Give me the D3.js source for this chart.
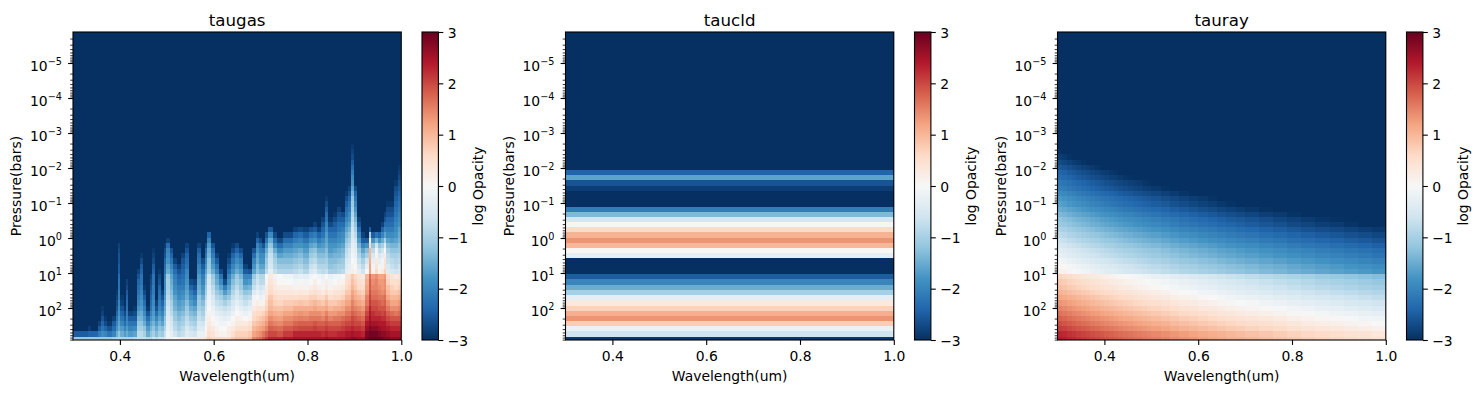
<!DOCTYPE html>
<html>
<head>
<meta charset="utf-8">
<script src="https://cdn.jsdelivr.net/npm/d3@7"></script>
<style>
    body { margin: 0; background: #fff; }
    text { font-family: "DejaVu Sans", sans-serif; fill: #000; }
</style>
</head>
<body>
<svg id="chart" width="1481" height="393"></svg>
<script>
const titles = ['taugas', 'taucld', 'tauray'];
const waveTicks = [0.4, 0.6, 0.8, 1.0];
const opacityTicks = [-3, -2, -1, 0, 1, 2, 3];
const pressureDecades = [-5, -4, -3, -2, -1, 0, 1, 2];
const rdbuStops = ['#053061', '#2166ac', '#4393c3', '#92c5de', '#d1e5f0', '#f7f7f7',
    '#fddbc7', '#f4a582', '#d6604d', '#b2182b', '#67001f'];

// layer edges, log10(bars), bottom of the plot first
const layerEdges = [2.914, 2.82, 2.67, 2.52, 2.37, 2.22, 2.08, 1.93, 1.78, 1.63, 1.48, 1.33, 1.18, 1.03,
    0.88, 0.73, 0.58, 0.44, 0.29, 0.14, -0.01, -0.16, -0.31, -0.46, -0.60, -0.75, -0.90, -1.05, -1.20,
    -1.35, -1.50, -1.65, -1.79, -1.94, -2.09, -2.24, -2.39, -2.54, -2.69, -2.84, -2.98, -3.13, -3.28,
    -3.43, -3.58, -3.73, -3.88, -4.03, -4.17, -4.32, -4.47, -4.62, -4.77, -4.92, -5.07, -5.22, -5.36,
    -5.51, -5.66, -5.81, -5.886];

// taucld, one value per layer from the bottom, anything missing is the -3 floor
const cldProfile = [-2.9, -0.6, -0.2, 0.75, 1.35, 1.1, 0.7, 0.3, -0.3, -1.0, -1.5, -2.0, -2.5, -3, -3, -3,
    -0.3, 0.05, 1.0, 1.35, 1.05, 0.6, -0.05, -0.55, -1.35, -2.1, -3, -3, -3, -2.85, -2.6, -1.6, -2.4];
const cldWave = [0.3, 1.0];

// tauray at 0.3um per layer, and how far each wavelength column sits below it
const rayProfile = [2.4, 2.3, 2.1, 1.95, 1.8, 1.65, 1.5, 1.35, 1.2, 1.05, 0.9, 0.8, 0.65, 0.15, 0.05, -0.1,
    -0.25, -0.35, -0.5, -0.65, -0.8, -0.95, -1.1, -1.2, -1.35, -1.5, -1.65, -1.75, -1.9, -2.05, -2.15,
    -2.3, -2.4, -2.55, -2.7, -2.85, -2.95];
const rayWave = [0.30, 0.31, 0.32, 0.33, 0.34, 0.35, 0.36, 0.37, 0.38, 0.39, 0.40, 0.41, 0.42, 0.43, 0.44,
    0.45, 0.46, 0.47, 0.48, 0.49, 0.50, 0.52, 0.54, 0.56, 0.58, 0.60, 0.62, 0.64, 0.66, 0.68, 0.70, 0.73,
    0.76, 0.79, 0.82, 0.85, 0.88, 0.91, 0.94, 0.97, 1.0];
const rayDrop = [0, 0.05, 0.11, 0.16, 0.21, 0.26, 0.30, 0.35, 0.39, 0.44, 0.48, 0.52, 0.56, 0.60, 0.64,
    0.67, 0.71, 0.74, 0.78, 0.81, 0.85, 0.91, 0.98, 1.04, 1.09, 1.15, 1.20, 1.26, 1.31, 1.36, 1.41, 1.48,
    1.54, 1.61, 1.67, 1.73, 1.78, 1.84, 1.89, 1.95];

// taugas columns start at these wavelengths
const gasWave = [0.300, 0.332, 0.338, 0.353, 0.360, 0.366, 0.373, 0.383, 0.392, 0.396, 0.400, 0.409, 0.413,
    0.417, 0.428, 0.437, 0.443, 0.449, 0.456, 0.464, 0.469, 0.475, 0.481, 0.488, 0.494, 0.498, 0.507, 0.513,
    0.522, 0.530, 0.539, 0.548, 0.556, 0.565, 0.573, 0.582, 0.586, 0.595, 0.603, 0.612, 0.620, 0.629, 0.637,
    0.646, 0.654, 0.663, 0.673, 0.682, 0.691, 0.697, 0.703, 0.710, 0.716, 0.727, 0.735, 0.748, 0.769, 0.780,
    0.791, 0.804, 0.812, 0.821, 0.829, 0.838, 0.844, 0.855, 0.863, 0.872, 0.880, 0.887, 0.893, 0.900, 0.906,
    0.915, 0.923, 0.932, 0.936, 0.944, 0.951, 0.957, 0.964, 0.968, 0.976, 0.985, 0.994, 1.0];

// one list per column, bottom layer first, stops where the column hits the -3 floor
const gasColumns = [
    [-1.1, -2.5],
    [-1.1, -2.4, -2.85],
    [-1.1, -2.4],
    [-1.1, -2.1, -2.5, -2.8],
    [-1.1, -1.9, -2.2, -2.4, -2.6, -2.8, -2.9],
    [-1.1, -2.0, -2.4, -2.7, -2.9],
    [-1.1, -2.2, -2.6, -2.9],
    [-1.0, -2.0, -2.3, -2.5, -2.8],
    [-0.9, -1.5, -1.8, -2.0, -2.2, -2.4, -2.6, -2.7, -2.8, -2.9],
    [-0.9, -1.2, -1.5, -1.6, -1.7, -1.8, -1.9, -2.0, -2.1, -2.1, -2.2, -2.2, -2.3, -2.5, -2.5, -2.6, -2.6, -2.7, -2.8],
    [-0.9, -1.5, -1.7, -2.0, -2.2, -2.4, -2.6, -2.8, -2.9],
    [-0.9, -1.7, -2.0, -2.3, -2.5, -2.7, -2.9],
    [-0.9, -1.5, -1.7, -1.9, -2.0, -2.1, -2.2, -2.3, -2.4, -2.5, -2.7, -2.8],
    [-0.9, -1.7, -2.0, -2.2, -2.5, -2.8],
    [-0.8, -1.6, -1.9, -2.2, -2.5, -2.7, -2.9],
    [-0.7, -0.8, -1.0, -1.2, -1.4, -1.6, -1.8, -2.0, -2.1, -2.2, -2.3, -2.4, -2.6, -2.8],
    [-0.7, -0.8, -1.0, -1.2, -1.4, -1.5, -1.7, -1.8, -1.9, -2.0, -2.1, -2.2, -2.2, -2.4, -2.5, -2.7, -2.9],
    [-0.7, -1.0, -1.2, -1.5, -1.7, -1.9, -2.1, -2.3, -2.5, -2.7, -2.9],
    [-0.8, -1.5, -1.7, -2.0, -2.3, -2.6, -2.9],
    [-0.8, -1.2, -1.4, -1.6, -1.8, -2.0, -2.2, -2.3, -2.4, -2.5, -2.6, -2.7, -2.8],
    [-0.6, -1.0, -1.2, -1.4, -1.6, -1.7, -1.8, -1.9, -2.0, -2.1, -2.1, -2.2, -2.2, -2.4, -2.5, -2.7, -2.8, -2.9],
    [-0.7, -1.3, -1.5, -1.7, -2.0, -2.3, -2.6, -2.8],
    [-0.6, -1.0, -1.2, -1.4, -1.6, -1.8, -2.0, -2.1, -2.2, -2.3, -2.4, -2.6, -2.7, -2.9],
    [-0.6, -1.1, -1.3, -1.6, -1.8, -2.0, -2.2, -2.4, -2.6, -2.8],
    [-0.4, -0.7, -0.9, -1.1, -1.2, -1.4, -1.5, -1.6, -1.7, -1.8, -1.9, -1.9, -2.0, -2.2, -2.3, -2.4, -2.6, -2.7, -2.9],
    [-0.1, -0.1, -0.2, -0.3, -0.4, -0.5, -0.6, -0.7, -0.8, -0.9, -1.0, -1.0, -1.1, -1.5, -1.6, -1.8, -1.9, -2.0, -2.3, -2.8],
    [0.1, -0.3, -0.4, -0.5, -0.6, -0.8, -0.9, -1.0, -1.2, -1.3, -1.4, -1.5, -1.6, -1.8, -2.0, -2.2, -2.4, -2.6],
    [0.0, -0.6, -0.8, -0.9, -1.1, -1.2, -1.4, -1.5, -1.6, -1.8, -1.9, -2.0, -2.1, -2.3, -2.5, -2.8],
    [0.1, -0.8, -1.0, -1.1, -1.3, -1.4, -1.6, -1.7, -1.9, -2.0, -2.1, -2.3, -2.4, -2.6, -2.8],
    [0.2, -0.7, -0.8, -1.0, -1.1, -1.3, -1.5, -1.6, -1.8, -1.9, -2.1, -2.2, -2.3, -2.4, -2.5, -2.6, -2.8],
    [0.2, -0.4, -0.5, -0.7, -0.8, -1.0, -1.1, -1.3, -1.5, -1.6, -1.7, -1.8, -1.9, -2.0, -2.2, -2.3, -2.4, -2.6, -2.8],
    [0.2, -0.5, -0.7, -0.9, -1.1, -1.3, -1.5, -1.7, -1.9, -2.1, -2.4, -2.7],
    [0.2, -0.6, -0.8, -1.0, -1.2, -1.4, -1.6, -1.9, -2.1, -2.4, -2.6, -2.8],
    [0.3, -0.2, -0.4, -0.5, -0.7, -0.8, -1.0, -1.1, -1.2, -1.4, -1.5, -1.6, -1.7, -1.9, -2.0, -2.2, -2.3, -2.5, -2.8],
    [0.3, -0.2, -0.4, -0.6, -0.8, -1.0, -1.1, -1.3, -1.5, -1.7, -1.8, -2.0, -2.1, -2.3, -2.5, -2.7],
    [0.5, 0.1, 0.0, -0.1, -0.2, -0.3, -0.5, -0.6, -0.8, -1.0, -1.1, -1.3, -1.4, -1.6, -1.8, -2.0, -2.2, -2.4, -2.7],
    [0.7, 0.5, 0.4, 0.3, 0.2, 0.1, 0.0, -0.1, -0.2, -0.3, -0.4, -0.5, -0.6, -1.0, -1.1, -1.2, -1.4, -1.5, -1.7, -2.0, -2.4],
    [0.6, 0.4, 0.3, 0.1, 0.0, -0.1, -0.2, -0.4, -0.5, -0.7, -0.8, -1.0, -1.1, -1.5, -1.7, -1.9, -2.1, -2.3, -2.6],
    [0.6, 0.2, 0.1, 0.0, -0.1, -0.3, -0.5, -0.7, -0.9, -1.1, -1.3, -1.5, -1.6, -2.0, -2.2, -2.5, -2.8],
    [0.6, 0.1, 0.0, -0.1, -0.2, -0.4, -0.6, -0.8, -1.0, -1.3, -1.6, -1.9, -2.2, -2.7],
    [0.6, 0.1, 0.0, -0.1, -0.3, -0.5, -0.7, -1.0, -1.3, -1.7, -2.1, -2.7],
    [0.6, 0.3, 0.2, 0.0, -0.2, -0.4, -0.6, -0.8, -1.1, -1.4, -1.6, -1.8, -2.0, -2.3, -2.5, -2.7, -2.9],
    [0.8, 0.5, 0.3, 0.1, 0.0, -0.2, -0.4, -0.5, -0.7, -0.9, -1.1, -1.3, -1.5, -1.8, -2.0, -2.2, -2.4, -2.7, -2.9],
    [0.9, 0.7, 0.5, 0.3, 0.2, 0.0, -0.1, -0.3, -0.5, -0.6, -0.8, -1.0, -1.1, -1.5, -1.7, -1.9, -2.1, -2.4, -2.7],
    [0.9, 0.7, 0.5, 0.3, 0.1, -0.1, -0.3, -0.5, -0.7, -0.9, -1.1, -1.2, -1.4, -1.7, -1.9, -2.1, -2.4, -2.7],
    [0.9, 0.7, 0.5, 0.3, 0.0, -0.2, -0.4, -0.7, -0.9, -1.2, -1.5, -1.8, -2.0, -2.5, -2.8],
    [1.0, 0.8, 0.6, 0.4, 0.1, -0.1, -0.3, -0.5, -0.8, -1.1, -1.4, -1.7, -2.0, -2.6],
    [1.5, 1.2, 1.0, 0.8, 0.6, 0.5, 0.3, 0.1, -0.1, -0.4, -0.7, -0.9, -1.1, -1.6, -1.8, -2.0, -2.3, -2.6],
    [1.6, 1.3, 1.1, 0.9, 0.7, 0.6, 0.4, 0.2, 0.0, -0.2, -0.4, -0.6, -0.7, -1.2, -1.3, -1.5, -1.6, -1.8, -2.0, -2.4, -2.8],
    [1.7, 1.4, 1.2, 1.0, 0.8, 0.6, 0.4, 0.1, -0.2, -0.4, -0.6, -0.8, -0.9, -1.4, -1.6, -1.8, -1.9, -2.1, -2.3, -2.7],
    [1.9, 1.6, 1.3, 1.1, 0.9, 0.7, 0.4, 0.1, -0.1, -0.3, -0.5, -0.8, -0.9, -1.4, -1.6, -1.8, -1.9, -2.2, -2.6],
    [2.1, 1.8, 1.5, 1.3, 1.1, 0.9, 0.7, 0.6, 0.4, 0.3, 0.2, 0.1, 0.0, -0.8, -1.0, -1.1, -1.3, -1.5, -1.8, -2.2, -2.6],
    [2.3, 2.0, 1.8, 1.6, 1.4, 1.2, 1.0, 0.9, 0.8, 0.6, 0.5, 0.4, 0.3, -0.3, -0.5, -0.6, -0.7, -0.9, -1.2, -1.5, -1.9, -2.5],
    [2.3, 2.0, 1.75, 1.5, 1.3, 1.1, 0.9, 0.7, 0.6, 0.4, 0.3, 0.2, 0.1, -0.7, -0.9, -1.0, -1.2, -1.5, -1.9, -2.3, -2.7],
    [2.3, 1.9, 1.7, 1.45, 1.25, 1.05, 0.85, 0.65, 0.5, 0.35, 0.2, 0.05, 0.0, -0.9, -1.1, -1.3, -1.6, -1.9, -2.3, -2.7],
    [2.4, 2.1, 1.85, 1.6, 1.4, 1.2, 0.95, 0.75, 0.55, 0.35, 0.2, 0.0, -0.1, -0.9, -1.1, -1.3, -1.5, -1.7, -2.0, -2.3, -2.7],
    [2.5, 2.3, 1.95, 1.75, 1.5, 1.3, 1.1, 0.8, 0.55, 0.3, 0.1, -0.1, -0.3, -0.8, -1.0, -1.2, -1.4, -1.6, -1.8, -2.1, -2.4, -2.8],
    [2.5, 2.3, 2.0, 1.8, 1.55, 1.35, 1.1, 0.85, 0.6, 0.35, 0.15, -0.05, -0.25, -0.7, -0.9, -1.1, -1.3, -1.5, -1.8, -2.0, -2.3, -2.7],
    [2.5, 2.3, 2.0, 1.8, 1.5, 1.3, 1.1, 0.8, 0.6, 0.3, 0.1, -0.1, -0.3, -0.9, -1.1, -1.3, -1.5, -1.7, -1.9, -2.2, -2.5, -2.8],
    [2.5, 2.3, 2.0, 1.8, 1.6, 1.4, 1.1, 0.9, 0.7, 0.4, 0.2, 0.0, -0.1, -0.5, -0.7, -0.9, -1.1, -1.3, -1.6, -1.9, -2.2, -2.6],
    [2.5, 2.3, 2.1, 1.9, 1.6, 1.4, 1.2, 1.0, 0.7, 0.5, 0.3, 0.2, 0.0, -0.4, -0.6, -0.8, -1.0, -1.2, -1.5, -1.8, -2.1, -2.5, -2.8],
    [2.5, 2.3, 2.0, 1.8, 1.6, 1.4, 1.1, 0.9, 0.6, 0.4, 0.2, 0.0, -0.1, -0.7, -0.9, -1.1, -1.3, -1.5, -1.8, -2.1, -2.4, -2.8],
    [2.5, 2.2, 2.0, 1.8, 1.5, 1.3, 1.1, 0.8, 0.6, 0.3, 0.1, -0.1, -0.2, -0.8, -0.9, -1.1, -1.3, -1.5, -1.7, -1.9, -2.2, -2.4, -2.6, -2.8],
    [2.6, 2.3, 2.1, 1.9, 1.7, 1.5, 1.2, 1.0, 0.8, 0.5, 0.3, 0.2, 0.0, -0.7, -0.9, -1.0, -1.2, -1.3, -1.5, -1.6, -1.7, -1.9, -2.0, -2.2, -2.3, -2.5, -2.7, -2.9],
    [2.5, 2.2, 2.0, 1.8, 1.5, 1.3, 1.0, 0.8, 0.5, 0.3, 0.1, -0.1, -0.2, -1.0, -1.2, -1.3, -1.5, -1.7, -1.8, -2.0, -2.2, -2.4, -2.7, -2.9],
    [2.5, 2.2, 2.0, 1.8, 1.6, 1.3, 1.1, 0.8, 0.6, 0.4, 0.2, 0.0, -0.1, -1.0, -1.1, -1.3, -1.4, -1.6, -1.8, -2.0, -2.2, -2.4, -2.5, -2.7, -2.9],
    [2.5, 2.3, 2.0, 1.8, 1.6, 1.4, 1.1, 0.9, 0.6, 0.4, 0.2, 0.1, -0.1, -0.9, -1.0, -1.2, -1.4, -1.5, -1.7, -1.9, -2.0, -2.2, -2.3, -2.5, -2.6, -2.8],
    [2.5, 2.3, 2.1, 1.9, 1.7, 1.4, 1.2, 1.0, 0.7, 0.5, 0.3, 0.1, 0.0, -0.8, -1.0, -1.1, -1.3, -1.4, -1.6, -1.8, -1.9, -2.1, -2.3, -2.5, -2.7],
    [2.6, 2.4, 2.2, 2.0, 1.8, 1.6, 1.4, 1.2, 1.0, 0.8, 0.6, 0.5, 0.4, -0.3, -0.4, -0.5, -0.7, -0.8, -1.0, -1.2, -1.4, -1.6, -1.8, -2.0, -2.2, -2.3, -2.5, -2.7, -2.9],
    [2.6, 2.4, 2.2, 2.0, 1.8, 1.6, 1.4, 1.2, 1.0, 0.8, 0.7, 0.6, 0.5, -0.2, -0.3, -0.4, -0.5, -0.6, -0.8, -1.0, -1.2, -1.4, -1.6, -1.8, -1.9, -2.1, -2.2, -2.4, -2.6, -2.8],
    [2.7, 2.5, 2.3, 2.1, 2.0, 1.8, 1.6, 1.5, 1.3, 1.2, 1.0, 0.9, 0.8, 0.2, 0.1, 0.0, -0.1, -0.2, -0.3, -0.4, -0.5, -0.6, -0.7, -0.8, -0.9, -1.0, -1.1, -1.2, -1.4, -1.6, -1.8, -1.9, -2.1, -2.3, -2.5, -2.7, -2.8, -2.9],
    [2.7, 2.4, 2.2, 2.0, 1.9, 1.7, 1.5, 1.3, 1.1, 1.0, 0.8, 0.7, 0.6, 0.1, 0.0, -0.1, -0.2, -0.3, -0.4, -0.6, -0.8, -1.0, -1.2, -1.4, -1.6, -1.8, -2.0, -2.2, -2.4, -2.7],
    [2.6, 2.4, 2.2, 2.0, 1.8, 1.6, 1.4, 1.2, 1.0, 0.8, 0.6, 0.5, 0.4, -0.3, -0.5, -0.7, -0.9, -1.1, -1.4, -1.7, -2.0, -2.3, -2.6, -2.8],
    [2.6, 2.3, 2.1, 1.9, 1.7, 1.5, 1.3, 1.1, 0.9, 0.7, 0.5, 0.4, 0.3, -0.6, -0.8, -1.0, -1.3, -1.6, -2.0, -2.5, -2.8],
    [2.9, 2.8, 2.6, 2.4, 2.2, 2.0, 1.8, 1.6, 1.5, 1.3, 1.2, 1.1, 1.0, 0.0, -0.3, -0.6, -1.0, -1.3, -1.8, -2.5],
    [3.0, 2.9, 2.8, 2.6, 2.5, 2.4, 2.3, 2.1, 2.0, 1.9, 1.8, 1.8, 1.7, 1.2, 1.2, 1.1, 1.0, 1.0, 0.6, 0.2, -1.0, -2.5],
    [3.0, 2.9, 2.7, 2.5, 2.3, 2.2, 2.0, 1.9, 1.7, 1.6, 1.5, 1.4, 1.3, 0.1, -0.1, -0.3, -0.5, -0.8, -1.2, -1.8, -2.5],
    [3.0, 2.9, 2.7, 2.5, 2.3, 2.1, 2.0, 1.9, 1.7, 1.6, 1.5, 1.5, 1.4, 0.6, 0.4, 0.3, 0.1, -0.1, -0.6, -1.4, -2.2],
    [3.0, 2.8, 2.6, 2.4, 2.3, 2.1, 1.9, 1.8, 1.6, 1.5, 1.4, 1.3, 1.2, 0.1, -0.1, -0.3, -0.5, -0.8, -1.2, -1.8, -2.4],
    [2.9, 2.7, 2.5, 2.4, 2.2, 2.0, 1.9, 1.7, 1.6, 1.4, 1.3, 1.3, 1.2, 0.3, 0.1, -0.1, -0.3, -0.6, -1.0, -1.5, -2.0, -2.4, -2.8],
    [2.8, 2.7, 2.5, 2.4, 2.2, 2.1, 1.9, 1.8, 1.7, 1.5, 1.4, 1.4, 1.3, 0.7, 0.5, 0.4, 0.2, 0.0, -0.4, -1.0, -1.6, -2.0, -2.3, -2.6, -2.8],
    [2.8, 2.6, 2.4, 2.2, 2.0, 1.8, 1.6, 1.4, 1.2, 1.0, 0.9, 0.7, 0.6, -0.4, -0.5, -0.7, -0.8, -1.0, -1.3, -1.6, -1.9, -2.1, -2.3, -2.4, -2.6, -2.7, -2.9],
    [2.7, 2.5, 2.3, 2.1, 1.9, 1.7, 1.4, 1.2, 1.0, 0.8, 0.7, 0.5, 0.4, -0.5, -0.7, -0.8, -1.0, -1.2, -1.4, -1.7, -1.9, -2.1, -2.3, -2.4, -2.6, -2.7, -2.9],
    [2.7, 2.5, 2.3, 2.1, 1.9, 1.6, 1.4, 1.2, 1.0, 0.8, 0.6, 0.5, 0.3, -0.6, -0.8, -0.9, -1.0, -1.2, -1.4, -1.6, -1.8, -1.9, -2.0, -2.1, -2.2, -2.3, -2.4, -2.5, -2.6, -2.7, -2.9],
    [2.7, 2.5, 2.3, 2.1, 1.9, 1.7, 1.5, 1.3, 1.1, 0.9, 0.7, 0.6, 0.4, -0.5, -0.6, -0.8, -0.9, -1.1, -1.2, -1.4, -1.5, -1.6, -1.8, -1.9, -2.0, -2.1, -2.2, -2.3, -2.4, -2.5, -2.6, -2.7, -2.8, -2.9]
];

const panelLefts = [73, 565.5, 1057.5];
const panelWidth = 328.3;
const plotTop = 32;
const plotBottom = 340;
const barGap = 349;
const barWidth = 16.4;

const svg = d3.select('#chart');

// same stops as matplotlib RdBu_r, d3.interpolateRdBu is a spline and comes out different
const color = d3.scaleLinear()
    .domain(rdbuStops.map((d, i) => -3 + i * 0.6))
    .range(rdbuStops)
    .clamp(true);

svg.append('defs')
    .append('linearGradient')
    .attr('id', 'rdbu')
    .attr('x1', 0).attr('y1', 1).attr('x2', 0).attr('y2', 0)
    .selectAll('stop')
    .data(rdbuStops)
    .enter().append('stop')
    .attr('offset', (d, i) => i / (rdbuStops.length - 1))
    .attr('stop-color', d => d);

const yScale = d3.scaleLog().domain([1.3e-6, 820]).range([plotTop, plotBottom]);
const minorTicks = pressureDecades.concat([-6])
    .flatMap(e => d3.range(2, 10).map(m => m * 10 ** e))
    .filter(p => p >= 1.3e-6 && p <= 820);

// each panel gets a list of { wave0, wave1, layer, value }
function gasCells() {
    const cells = [];
    gasColumns.forEach((column, j) => {
        layerEdges.slice(1).forEach((edge, i) => {
            cells.push({ wave0: gasWave[j], wave1: gasWave[j + 1], layer: i, value: column[i] ?? -3 });
        });
    });
    return cells;
}

function cldCells() {
    return layerEdges.slice(1).map((edge, i) => (
        { wave0: cldWave[0], wave1: cldWave[1], layer: i, value: cldProfile[i] ?? -3 }
    ));
}

function rayCells() {
    const cells = [];
    rayDrop.forEach((drop, j) => {
        layerEdges.slice(1).forEach((edge, i) => {
            const value = i < rayProfile.length ? rayProfile[i] - drop : -3;
            cells.push({ wave0: rayWave[j], wave1: rayWave[j + 1], layer: i, value: value });
        });
    });
    return cells;
}

function styleTicks(g, width) {
    g.select('.domain').remove();
    g.selectAll('line').attr('stroke', '#000').attr('stroke-width', width);
}

function drawPressureLabels(g) {
    g.selectAll('text').each(function(d) {
        const label = d3.select(this);
        const exponent = Math.round(Math.log10(d));
        label.text(null)
            .attr('x', -11)
            .attr('dy', null)
            .attr('y', 7)
            .attr('font-size', '13.9px')
            .attr('font-family', 'DejaVu Sans');
        label.append('tspan').text('10');
        label.append('tspan')
            .attr('dy', -5.5)
            .attr('font-size', '9.7px')
            .text(d3.format('d')(exponent));
    });
}

function drawPanel(title, cells, left) {
    const center = left + panelWidth / 2;
    const xScale = d3.scaleLinear().domain([0.3, 1.0]).range([left, left + panelWidth]);

    svg.append('g').selectAll('rect')
        .data(cells)
        .enter().append('rect')
        .attr('x', d => xScale(d.wave0))
        .attr('width', d => xScale(d.wave1) - xScale(d.wave0))
        .attr('y', d => yScale(10 ** layerEdges[d.layer + 1]))
        .attr('height', d => yScale(10 ** layerEdges[d.layer]) - yScale(10 ** layerEdges[d.layer + 1]))
        .attr('fill', d => color(d.value))
        .attr('shape-rendering', 'crispEdges');

    svg.append('rect')
        .attr('x', left).attr('y', plotTop)
        .attr('width', panelWidth).attr('height', plotBottom - plotTop)
        .attr('fill', 'none').attr('stroke', '#000').attr('stroke-width', 1.1);

    svg.append('g')
        .attr('transform', `translate(0,${plotBottom})`)
        .call(d3.axisBottom(xScale).tickValues(waveTicks).tickFormat(d3.format('.1f')).tickSize(4.9))
        .call(g => styleTicks(g, 1.1))
        .call(g => g.selectAll('text')
            .attr('y', 20.7).attr('dy', null)
            .attr('font-size', '13.9px').attr('font-family', 'DejaVu Sans'));

    svg.append('g')
        .attr('transform', `translate(${left},0)`)
        .call(d3.axisLeft(yScale).tickValues(pressureDecades.map(e => 10 ** e)).tickSize(4.9))
        .call(g => styleTicks(g, 1.1))
        .call(drawPressureLabels);

    svg.append('g')
        .attr('transform', `translate(${left},0)`)
        .call(d3.axisLeft(yScale).tickValues(minorTicks).tickFormat('').tickSize(2.8))
        .call(g => styleTicks(g, 0.8));

    svg.append('text')
        .attr('x', center).attr('y', 26)
        .attr('text-anchor', 'middle')
        .attr('font-size', '16.67px')
        .text(title);

    svg.append('text')
        .attr('x', center).attr('y', 381)
        .attr('text-anchor', 'middle')
        .attr('font-size', '13.9px')
        .text('Wavelength(um)');

    svg.append('text')
        .attr('transform', `translate(${left - 52},186) rotate(-90)`)
        .attr('text-anchor', 'middle')
        .attr('font-size', '13.9px')
        .text('Pressure(bars)');

    // colorbar
    const barLeft = left + barGap;
    const barScale = d3.scaleLinear().domain([-3, 3]).range([plotBottom, plotTop]);

    svg.append('rect')
        .attr('x', barLeft).attr('y', plotTop)
        .attr('width', barWidth).attr('height', plotBottom - plotTop)
        .attr('fill', 'url(#rdbu)')
        .attr('stroke', '#000').attr('stroke-width', 1.1);

    svg.append('g')
        .attr('transform', `translate(${barLeft + barWidth},0)`)
        .call(d3.axisRight(barScale).tickValues(opacityTicks).tickFormat(d3.format('d')).tickSize(4.9))
        .call(g => styleTicks(g, 1.1))
        .call(g => g.selectAll('text')
            .attr('x', 9.3).attr('dy', '0.36em')
            .attr('font-size', '13.9px').attr('font-family', 'DejaVu Sans'));

    svg.append('text')
        .attr('transform', `translate(${left + 410},186) rotate(-90)`)
        .attr('text-anchor', 'middle')
        .attr('font-size', '13.9px')
        .text('log Opacity');
}

const panelCells = [gasCells(), cldCells(), rayCells()];
titles.forEach((title, i) => drawPanel(title, panelCells[i], panelLefts[i]));
</script>
</body>
</html>
